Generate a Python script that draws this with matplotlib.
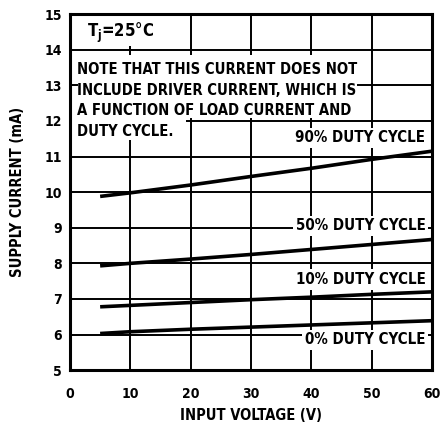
"""Courant d'alimentation en fonction de la tension d'entrée (fiche technique)."""

import matplotlib
matplotlib.use("Agg")
import matplotlib.pyplot as plt
from matplotlib.patches import Rectangle

voltage = [5, 10, 20, 30, 40, 50, 60]
duty_90 = [9.88, 9.98, 10.20, 10.44, 10.67, 10.92, 11.15]
duty_50 = [7.93, 8.00, 8.12, 8.25, 8.39, 8.53, 8.67]
duty_10 = [6.78, 6.82, 6.90, 6.98, 7.05, 7.13, 7.20]
duty_0 = [6.03, 6.08, 6.15, 6.21, 6.27, 6.33, 6.39]

series = [
    (duty_90, "90% DUTY CYCLE", 11.52),
    (duty_50, "50% DUTY CYCLE", 9.05),
    (duty_10, "10% DUTY CYCLE", 7.55),
    (duty_0, "0% DUTY CYCLE", 5.85),
]

note_lines = [
    "NOTE THAT THIS CURRENT DOES NOT",
    "INCLUDE DRIVER CURRENT, WHICH IS",
    "A FUNCTION OF LOAD CURRENT AND",
    "DUTY CYCLE.",
]

plt.rcParams["font.family"] = ["DejaVu Sans"]
plt.rcParams["font.stretch"] = "condensed"
plt.rcParams["font.weight"] = "bold"
plt.rcParams["axes.labelweight"] = "bold"
plt.rcParams["mathtext.default"] = "regular"

fig = plt.figure(figsize=(4.4, 4.26), dpi=100)
ax = fig.add_axes([0.159, 0.131, 0.823, 0.836])

ax.set_xlim(0, 60)
ax.set_ylim(5, 15)
ax.set_xticks(range(0, 61, 10))
ax.set_yticks(range(5, 16))
ax.grid(True, color="black", linewidth=1.4, zorder=1)
ax.set_axisbelow(True)
ax.tick_params(length=0, labelsize=10, pad=6)
ax.tick_params(axis="x", pad=12)
for sp in ax.spines.values():
    sp.set_linewidth(2.2)

# zones blanches qui masquent la grille sous les textes
ax.add_patch(Rectangle((0.6, 14.1), 19.0, 0.84, facecolor="white",
                       edgecolor="none", zorder=2))
ax.add_patch(Rectangle((1.3, 12.08), 46.3, 1.78, facecolor="white",
                       edgecolor="none", zorder=2))
ax.add_patch(Rectangle((0.4, 11.45), 18.8, 0.65, facecolor="white",
                       edgecolor="none", zorder=2))

ax.text(2.8, 14.47, "T$_j$=25°C", fontsize=12, va="center", ha="left",
        zorder=4)
for i, line in enumerate(note_lines):
    ax.text(1.2, 13.43 - i * 0.575, line, fontsize=10.6,
            va="center", ha="left", zorder=4)

for values, label, ypos in series:
    ax.plot(voltage, values, color="black", linewidth=2.6, zorder=3,
            solid_capstyle="butt")
    ax.text(58.9, ypos, label, fontsize=10.8, ha="right", va="center",
            zorder=4, bbox=dict(facecolor="white", edgecolor="none", pad=2))

ax.set_xlabel("INPUT VOLTAGE (V)", fontsize=10.5, labelpad=5)
ax.set_ylabel("SUPPLY CURRENT (mA)", fontsize=10.5, labelpad=14)

fig.savefig("out.png", dpi=100)
